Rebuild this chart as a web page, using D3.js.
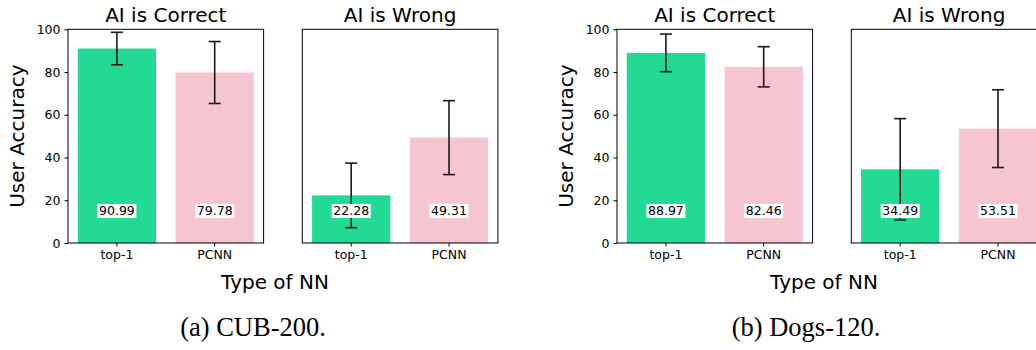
<!DOCTYPE html>
<html>
<head>
<meta charset="utf-8">
<script src="https://cdn.jsdelivr.net/npm/d3@7"></script>
<style>
  body { margin: 0; background: #fff; }
  svg { display: block; }
</style>
</head>
<body>
<svg id="chart" width="1036" height="350"></svg>
<script>
// data
const panels = ["AI is Correct", "AI is Wrong"];
const models = ["top-1", "PCNN"];
const captions = ["(a) CUB-200.", "(b) Dogs-120."];
const cubMeans = [[90.99, 79.78], [22.28, 49.31]];
const cubErrs = [[7.6, 14.5], [15.1, 17.3]];
const dogsMeans = [[88.97, 82.46], [34.49, 53.51]];
const dogsErrs = [[8.8, 9.4], [23.7, 18.2]];
const yTicks = [0, 20, 40, 60, 80, 100];

const colors = { "top-1": "#22da94", "PCNN": "#f5c6cf" };
const labelAt = 15; // value labels sit at y = 15

const svg = d3.select("#chart");
const figOffsets = [0, 549];
const captionX = [253, 806];
const panelLeft = [68, 302.3];
const panelW = 195.6;
const plotTop = 29.3, plotBottom = 243;
const h = plotBottom - plotTop;

const x = d3.scaleBand().domain(models).range([0, panelW])
  .paddingInner(0.2).paddingOuter(0.1);
const y = d3.scaleLinear().domain([0, 100]).range([h, 0]);

const figures = [
  { means: cubMeans, errs: cubErrs },
  { means: dogsMeans, errs: dogsErrs }
];

figures.forEach((fig, fi) => {
  const f = svg.append("g").attr("transform", `translate(${figOffsets[fi]},0)`);

  panels.forEach((title, pi) => {
    const g = f.append("g").attr("transform", `translate(${panelLeft[pi]},${plotTop})`);
    const rows = models.map((m, i) => ({
      model: m, mean: fig.means[pi][i], err: fig.errs[pi][i]
    }));

    // bars
    g.selectAll("rect.bar")
      .data(rows)
      .enter()
      .append("rect")
      .attr("class", "bar")
      .attr("x", d => x(d.model))
      .attr("width", x.bandwidth())
      .attr("y", d => y(d.mean))
      .attr("height", d => h - y(d.mean))
      .style("fill", d => colors[d.model]);

    // error bars
    const eb = g.selectAll("g.err")
      .data(rows)
      .enter()
      .append("g")
      .attr("transform", d => `translate(${x(d.model) + x.bandwidth() / 2},0)`)
      .style("stroke", "#1a1a1a")
      .style("stroke-width", 1.6);
    eb.append("line")
      .attr("y1", d => y(d.mean - d.err))
      .attr("y2", d => y(d.mean + d.err));
    eb.append("line")
      .attr("x1", -6).attr("x2", 6)
      .attr("y1", d => y(d.mean + d.err))
      .attr("y2", d => y(d.mean + d.err));
    eb.append("line")
      .attr("x1", -6).attr("x2", 6)
      .attr("y1", d => y(d.mean - d.err))
      .attr("y2", d => y(d.mean - d.err));

    // value labels with white box
    const lab = g.selectAll("g.lab")
      .data(rows)
      .enter()
      .append("g")
      .attr("transform", d => `translate(${x(d.model) + x.bandwidth() / 2},${y(labelAt)})`);
    lab.append("rect")
      .attr("x", -19.5).attr("y", -7)
      .attr("width", 39).attr("height", 14)
      .style("fill", "#fff");
    lab.append("text")
      .text(d => d.mean.toFixed(2))
      .attr("text-anchor", "middle")
      .attr("dy", "0.36em")
      .style("font-family", "DejaVu Sans")
      .style("font-size", "12.5px")
      .style("fill", "#000");

    // x axis
    const xa = g.append("g")
      .attr("transform", `translate(0,${h})`)
      .call(d3.axisBottom(x).tickSize(3.5).tickPadding(4));
    xa.select(".domain").remove();
    xa.selectAll("text")
      .style("font-family", "DejaVu Sans")
      .style("font-size", "12.5px")
      .style("fill", "#000");

    // y axis only on the left panel
    if (pi === 0) {
      const ya = g.append("g")
        .call(d3.axisLeft(y).tickValues(yTicks).tickSize(3.5).tickPadding(4));
      ya.select(".domain").remove();
      ya.selectAll("text")
        .style("font-family", "DejaVu Sans")
        .style("font-size", "12.5px")
        .style("fill", "#000");
    }

    // frame
    g.append("rect")
      .attr("width", panelW).attr("height", h)
      .style("fill", "none")
      .style("stroke", "#000")
      .style("stroke-width", 1);

    g.append("text")
      .text(title)
      .attr("x", panelW / 2)
      .attr("y", 21.5 - plotTop)
      .attr("text-anchor", "middle")
      .style("font-family", "DejaVu Sans")
      .style("font-size", "20px");
  });

  f.append("text")
    .text("User Accuracy")
    .attr("transform", `translate(24,${plotTop + h / 2}) rotate(-90)`)
    .attr("text-anchor", "middle")
    .style("font-family", "DejaVu Sans")
    .style("font-size", "20px");

  f.append("text")
    .text("Type of NN")
    .attr("x", 275)
    .attr("y", 289)
    .attr("text-anchor", "middle")
    .style("font-family", "DejaVu Sans")
    .style("font-size", "20px");

  svg.append("text")
    .text(captions[fi])
    .attr("x", captionX[fi])
    .attr("y", 336)
    .attr("text-anchor", "middle")
    .style("font-family", "Liberation Serif")
    .style("font-size", "26.5px");
});
</script>
</body>
</html>
